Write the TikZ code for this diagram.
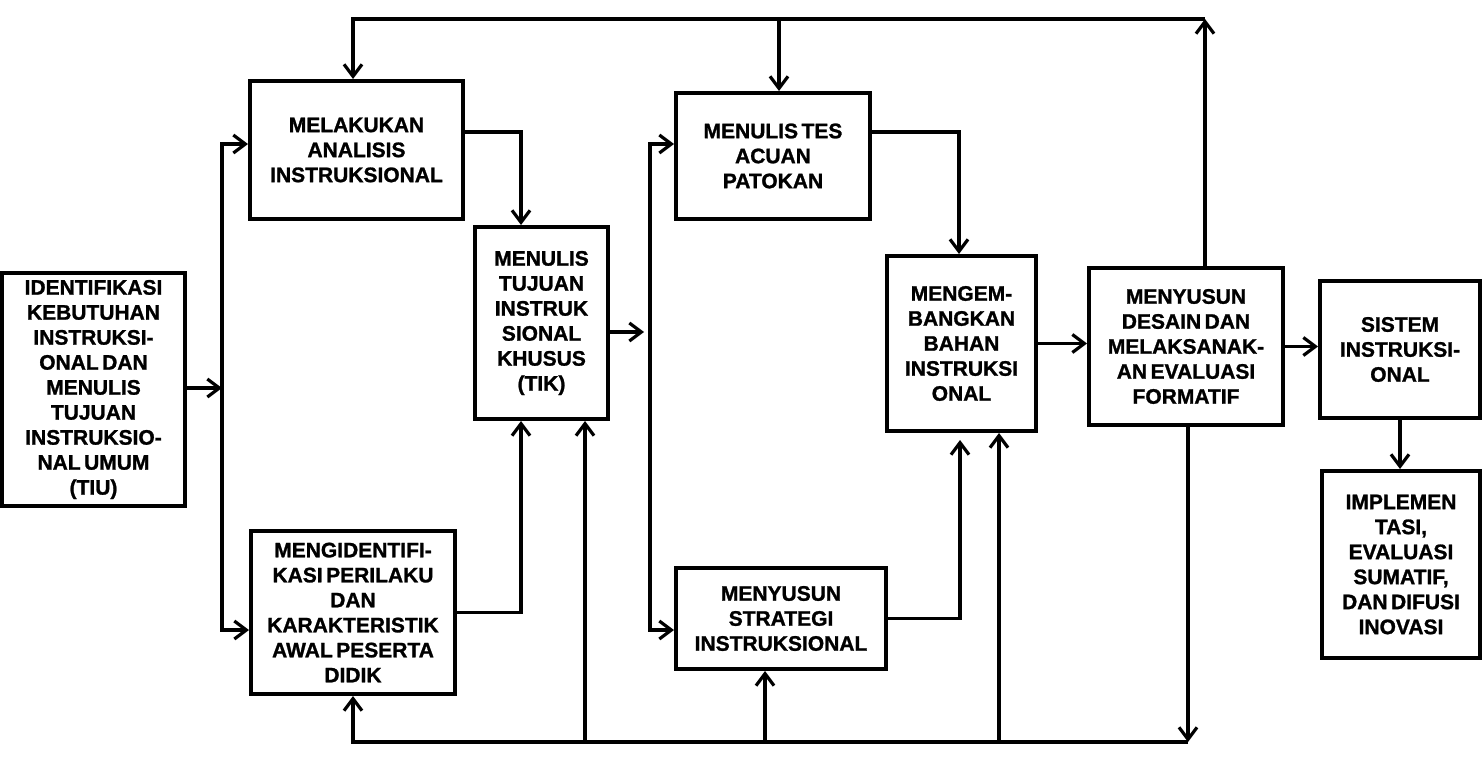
\documentclass[tikz,border=0pt]{standalone}
\usepackage{fontspec}
\setmainfont{Liberation Sans}[WordSpace=0.6, BoldFeatures={FakeBold=1.2}]
\usetikzlibrary{arrows.meta}

\begin{document}
\begin{tikzpicture}[x=1pt, y=-1pt,
	box/.style={draw, line width=4pt, align=center, inner sep=0pt, font=\bfseries\fontsize{21}{25}\selectfont},
	line/.style={line width=3pt},
	arr/.style={line width=3.2pt, -{Straight Barb[length=12pt,width=18pt]}}]
	\useasboundingbox (0,0) rectangle (1483,763);
	\node[box, minimum width=183pt, minimum height=233pt] (tiu) at (93.5,389.5) {IDENTIFIKASI\\KEBUTUHAN\\INSTRUKSI-\\ONAL DAN\\MENULIS\\TUJUAN\\INSTRUKSIO-\\NAL UMUM\\(TIU)};
	\node[box, minimum width=213pt, minimum height=138pt] (analisis) at (356.5,150) {MELAKUKAN\\ANALISIS\\INSTRUKSIONAL};
	\node[box, minimum width=204pt, minimum height=163pt] (perilaku) at (353,612.5) {MENGIDENTIFI-\\KASI PERILAKU\\DAN\\KARAKTERISTIK\\AWAL PESERTA\\DIDIK};
	\node[box, minimum width=133pt, minimum height=192pt] (tik) at (541.5,323) {MENULIS\\TUJUAN\\INSTRUK\\SIONAL\\KHUSUS\\(TIK)};
	\node[box, minimum width=194pt, minimum height=126pt] (tes) at (773,156) {MENULIS TES\\ACUAN\\PATOKAN};
	\node[box, minimum width=210pt, minimum height=101pt] (strategi) at (781,618.5) {MENYUSUN\\STRATEGI\\INSTRUKSIONAL};
	\node[box, minimum width=149pt, minimum height=175pt] (bahan) at (961.5,343.5) {MENGEM-\\BANGKAN\\BAHAN\\INSTRUKSI\\ONAL};
	\node[box, minimum width=194pt, minimum height=157pt] (evaluasi) at (1186,346.5) {MENYUSUN\\DESAIN DAN\\MELAKSANAK-\\AN EVALUASI\\FORMATIF};
	\node[box, minimum width=160pt, minimum height=137pt] (sistem) at (1400,349.5) {SISTEM\\INSTRUKSI-\\ONAL};
	\node[box, minimum width=158pt, minimum height=187pt] (difusi) at (1401,564.5) {IMPLEMEN\\TASI,\\EVALUASI\\SUMATIF,\\DAN DIFUSI\\INOVASI};

	\coordinate (lsplit) at (222,388);
	\coordinate (ltop) at (222,144);
	\coordinate (lbot) at (222,630);
	\coordinate (rsplit) at (650,332);
	\coordinate (rtop) at (650,144);
	\coordinate (rbot) at (650,630);
	\coordinate (tright) at (1205,19);
	\coordinate (tleft) at (353,19);
	\coordinate (ttes) at (779,19);
	\coordinate (bright) at (1188,742);
	\coordinate (bleft) at (353,742);
	\coordinate (btik) at (585,742);
	\coordinate (bstrat) at (765,742);
	\coordinate (bbahan) at (999,742);

	\draw[arr] (tiu.east |- lsplit) -- (lsplit);
	\draw[arr] (lbot) -- (ltop) -- (ltop -| analisis.west);
	\draw[arr] (ltop) -- (lbot) -- (lbot -| perilaku.west);
	\draw[arr] ([yshift=18pt]analisis.east) -| ([xshift=-20.5pt]tik.north);
	\draw[arr] (perilaku.east) -| ([xshift=-20.5pt]tik.south);
	\draw[arr, shorten >=6pt] (tik.east |- rsplit) -- (rsplit);
	\draw[arr] (rbot) -- (rtop) -- (rtop -| tes.west);
	\draw[arr] (rtop) -- (rbot) -- (rbot -| strategi.west);
	\draw[arr] ([yshift=24pt]tes.east) -| ([xshift=-2.5pt]bahan.north);
	\draw[arr, shorten >=7pt] (strategi.east) -| ([xshift=-1.5pt]bahan.south);
	\draw[arr] (bahan.east) -- (bahan.east -| evaluasi.west);
	\draw[arr] (evaluasi.east) -- (evaluasi.east -| sistem.west);
	\draw[arr] (sistem.south) -- (sistem.south |- difusi.north);

	\draw[arr] (evaluasi.north -| tright) -- (tright);
	\draw[arr] (tright) -- (tleft) -- (tleft |- analisis.north);
	\draw[arr] (ttes) -- (ttes |- tes.north);

	\draw[arr] (evaluasi.south -| bright) -- (bright);
	\draw[arr] (bright) -- (bleft) -- (bleft |- perilaku.south);
	\draw[arr] (btik) -- (btik |- tik.south);
	\draw[arr] (bstrat) -- (bstrat |- strategi.south);
	\draw[arr] (bbahan) -- (bbahan |- bahan.south);
\end{tikzpicture}
\end{document}
